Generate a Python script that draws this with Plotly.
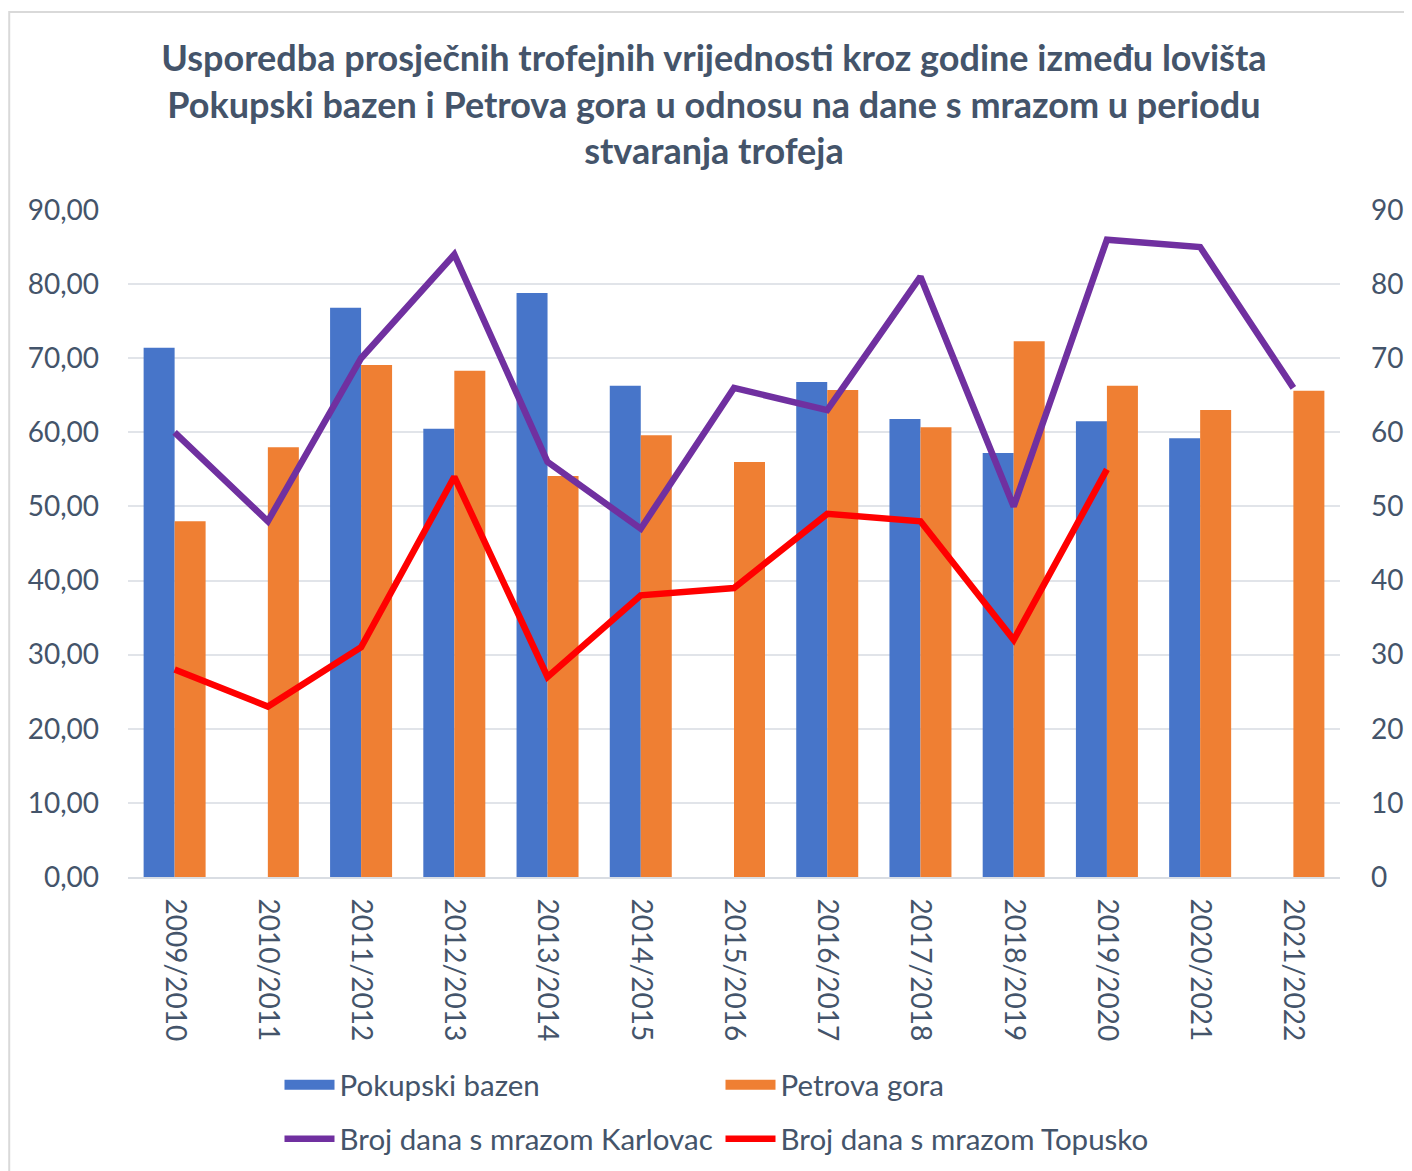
import plotly.graph_objects as go

seasons = ["2009/2010", "2010/2011", "2011/2012", "2012/2013", "2013/2014", "2014/2015",
           "2015/2016", "2016/2017", "2017/2018", "2018/2019", "2019/2020", "2020/2021", "2021/2022"]
pokupski = [71.4, None, 76.8, 60.5, 78.8, 66.3, None, 66.8, 61.8, 57.2, 61.5, 59.2, None]
petrova = [48.0, 58.0, 69.1, 68.3, 54.1, 59.6, 56.0, 65.7, 60.7, 72.3, 66.3, 63.0, 65.6]
karlovac = [60, 48, 70, 84, 56, 47, 66, 63, 81, 50, 86, 85, 66]
topusko = [28, 23, 31, 54, 27, 38, 39, 49, 48, 32, 55, None, None]

TXT = "#44546A"
FONT = "Lato"
BLUE = "#4775C9"
ORANGE = "#EF7F33"

fig = go.Figure()
fig.add_trace(go.Bar(x=seasons, y=pokupski, name="Pokupski bazen", showlegend=False,
                     legendgroup="pok", marker=dict(color=BLUE, line=dict(width=0))))
fig.add_trace(go.Bar(x=seasons, y=petrova, name="Petrova gora", showlegend=False,
                     legendgroup="pet", marker=dict(color=ORANGE, line=dict(width=0))))
fig.add_trace(go.Scatter(x=seasons, y=karlovac, name="Broj dana s mrazom Karlovac",
                         mode="lines", yaxis="y2", legend="legend2",
                         line=dict(color="#7030A0", width=6.5)))
fig.add_trace(go.Scatter(x=seasons, y=topusko, name="Broj dana s mrazom Topusko",
                         mode="lines", yaxis="y2", legend="legend2",
                         line=dict(color="#FF0000", width=6.5)))
# legend-only swatches for the bar series (rectangular keys)
fig.add_trace(go.Scatter(x=[None], y=[None], name="Pokupski bazen", mode="lines",
                         legendgroup="pok", line=dict(color=BLUE, width=17), legend="legend"))
fig.add_trace(go.Scatter(x=[None], y=[None], name="Petrova gora", mode="lines",
                         legendgroup="pet", line=dict(color=ORANGE, width=17), legend="legend"))

legend_common = dict(orientation="h", xanchor="left", yanchor="middle",
                     entrywidth=376, entrywidthmode="pixels",
                     font=dict(family=FONT, size=29.5, color=TXT),
                     itemwidth=50, traceorder="normal", bgcolor="rgba(0,0,0,0)")

fig.update_layout(
    width=1404, height=1163,
    paper_bgcolor="white", plot_bgcolor="white",
    separators=",.",
    font=dict(family=FONT, size=28, color=TXT),
    margin=dict(l=120, r=72, t=202, b=294, autoexpand=False),
    title=dict(
        text="<b>Usporedba prosječnih trofejnih vrijednosti kroz godine između lovišta<br>"
             "Pokupski bazen i Petrova gora u odnosu na dane s mrazom u periodu<br>"
             "stvaranja trofeja</b>",
        font=dict(family=FONT, size=36, color=TXT),
        x=0.5028, xanchor="center", xref="container",
        y=0.946, yanchor="top", yref="container",
    ),
    barmode="group", bargap=0.335, bargroupgap=0,
    xaxis=dict(type="category", tickangle=90, showgrid=False, automargin=False,
               showline=True, linecolor="#D9DDE3", linewidth=2,
               ticks="", ticklabelstandoff=14,
               tickfont=dict(family=FONT, size=28, color=TXT)),
    yaxis=dict(range=[0, 90], dtick=10, tickformat=".2f", automargin=False,
               showgrid=True, gridcolor="#E1E4E9", gridwidth=2,
               zeroline=False, ticks="", ticklabelstandoff=28,
               tickfont=dict(family=FONT, size=28, color=TXT)),
    yaxis2=dict(range=[0, 90], dtick=10, overlaying="y", side="right", automargin=False,
                showgrid=False, zeroline=False, ticks="", ticklabelstandoff=30,
                tickfont=dict(family=FONT, size=28, color=TXT)),
    legend=dict(x=0.125, y=-0.312, **legend_common),
    legend2=dict(x=0.125, y=-0.393, **legend_common),
    shapes=[dict(type="rect", xref="paper", yref="paper",
                 x0=-0.098, x1=1.07, y0=-0.45, y1=1.297,
                 line=dict(color="#D9D9D9", width=2), layer="below")],
)

fig.write_html("out.html")
